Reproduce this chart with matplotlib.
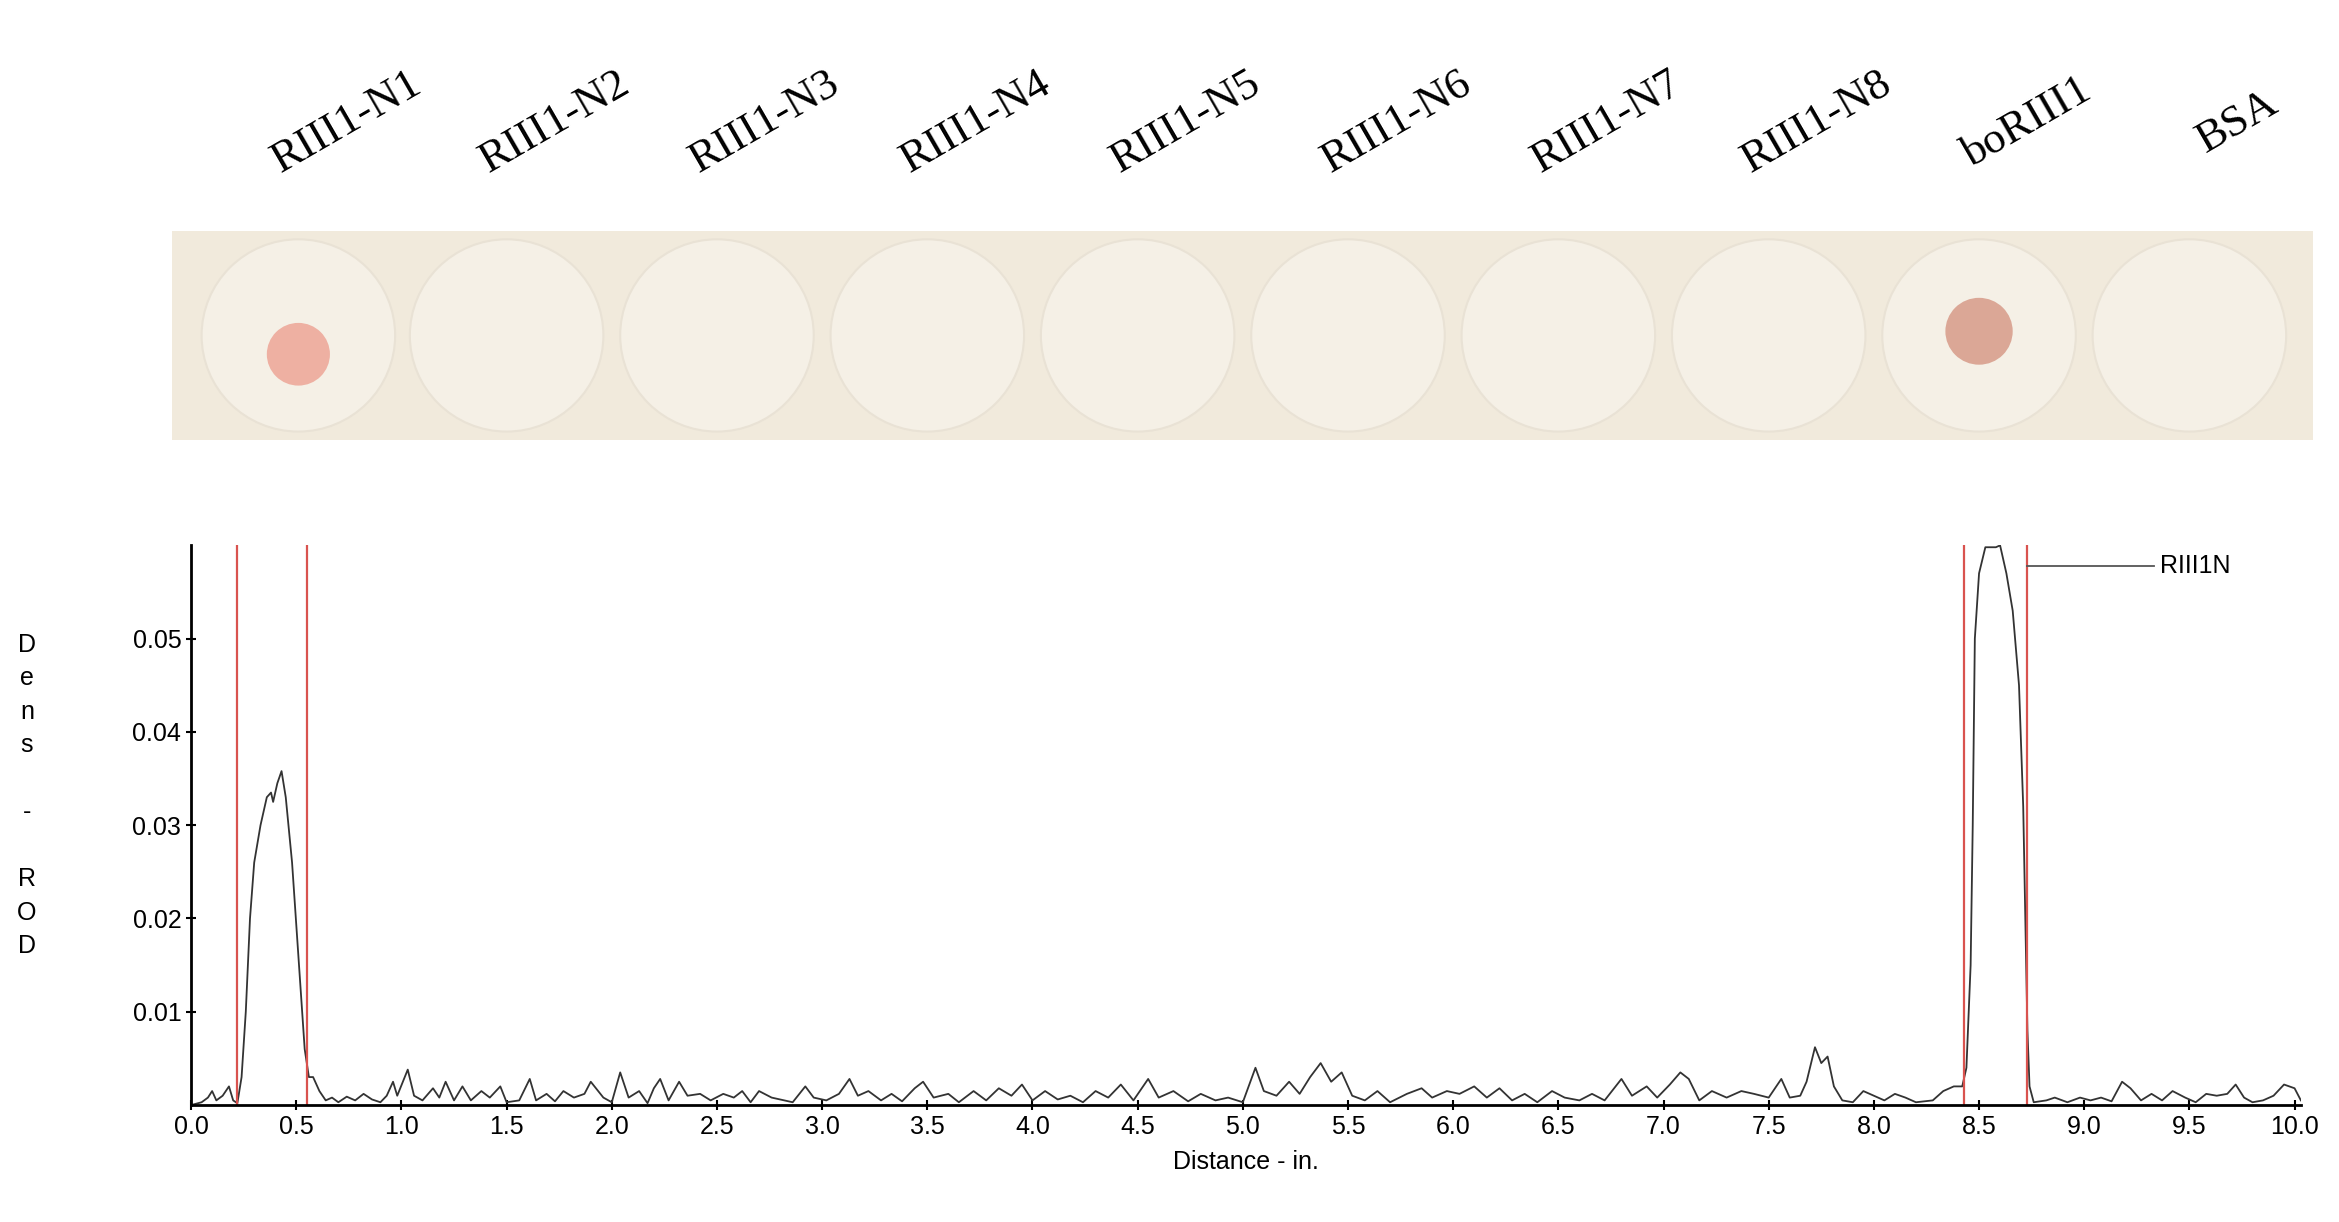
import matplotlib
matplotlib.use("Agg")
import matplotlib.pyplot as plt
from matplotlib.patches import Rectangle, Circle

# lane names and positions on the strip (inches)
lanes = ['RIII1-N1', 'RIII1-N2', 'RIII1-N3', 'RIII1-N4', 'RIII1-N5',
         'RIII1-N6', 'RIII1-N7', 'RIII1-N8', 'boRIII1', 'BSA']
lane_x = [0.51, 1.5, 2.5, 3.5, 4.5, 5.5, 6.5, 7.5, 8.5, 9.5]

# coloured spots: x, y, radius, colour
spot_x = [0.51, 8.5]
spot_y = [0.41, 0.52]
spot_r = [0.15, 0.16]
spot_c = ['#eeb0a2', '#dba796']

# densitometry trace
dist = [0.0, 0.05, 0.08, 0.1, 0.12, 0.15, 0.18, 0.2, 0.22, 0.24, 0.26, 0.28, 0.30, 0.33, 0.36, 0.38, 0.39, 0.41,
        0.43, 0.45, 0.48, 0.51, 0.54, 0.56, 0.58, 0.61, 0.64, 0.67, 0.70, 0.74, 0.78, 0.82, 0.86, 0.90, 0.93,
        0.96, 0.98, 1.03, 1.06, 1.10, 1.15, 1.18, 1.21, 1.25, 1.29, 1.33, 1.38, 1.42, 1.47, 1.5, 1.56, 1.61,
        1.64, 1.69, 1.73, 1.77, 1.82, 1.87, 1.9, 1.96, 2.0, 2.04, 2.08, 2.13, 2.17, 2.2, 2.23, 2.27, 2.32,
        2.36, 2.42, 2.47, 2.53, 2.58, 2.62, 2.66, 2.7, 2.76, 2.82, 2.86, 2.92, 2.96, 3.02, 3.08, 3.13, 3.17,
        3.22, 3.28, 3.33, 3.38, 3.44, 3.48, 3.53, 3.6, 3.65, 3.72, 3.78, 3.84, 3.9, 3.95, 4.0, 4.06, 4.12,
        4.18, 4.24, 4.3, 4.36, 4.42, 4.48, 4.55, 4.6, 4.67, 4.74, 4.8, 4.87, 4.93, 5.0, 5.06, 5.1, 5.16,
        5.22, 5.27, 5.32, 5.37, 5.42, 5.47, 5.52, 5.58, 5.64, 5.7, 5.78, 5.85, 5.9, 5.97, 6.03, 6.1, 6.16,
        6.22, 6.28, 6.34, 6.4, 6.47, 6.53, 6.6, 6.66, 6.72, 6.8, 6.85, 6.92, 6.97, 7.03, 7.08, 7.12, 7.17,
        7.23, 7.3, 7.37, 7.43, 7.5, 7.56, 7.6, 7.65, 7.68, 7.72, 7.75, 7.78, 7.81, 7.85, 7.9, 7.95, 8.0,
        8.05, 8.1, 8.15, 8.2, 8.28, 8.33, 8.38, 8.42, 8.44, 8.46, 8.47, 8.48, 8.5, 8.53, 8.58, 8.6, 8.63,
        8.66, 8.69, 8.71, 8.72, 8.73, 8.74, 8.76, 8.82, 8.86, 8.92, 8.98, 9.03, 9.08, 9.13, 9.18, 9.22,
        9.27, 9.32, 9.37, 9.42, 9.48, 9.53, 9.58, 9.63, 9.68, 9.72, 9.76, 9.8, 9.85, 9.9, 9.95, 10.0, 10.03]
dens = [0.0, 0.0003, 0.0008, 0.0015, 0.0005, 0.001, 0.002, 0.0005, 0.0002, 0.003, 0.01, 0.02, 0.026, 0.03,
        0.033, 0.0335, 0.0325, 0.0345, 0.0358, 0.033, 0.026, 0.016, 0.006, 0.003, 0.003, 0.0015, 0.0005,
        0.0008, 0.0003, 0.0009, 0.0005, 0.0012, 0.0006, 0.0003, 0.001, 0.0025, 0.001, 0.0038, 0.001, 0.0005,
        0.0018, 0.0008, 0.0025, 0.0005, 0.002, 0.0005, 0.0015, 0.0008, 0.002, 0.0003, 0.0005, 0.0028, 0.0005,
        0.0012, 0.0004, 0.0015, 0.0008, 0.0012, 0.0025, 0.0008, 0.0003, 0.0035, 0.0008, 0.0015, 0.0002,
        0.0018, 0.0028, 0.0005, 0.0025, 0.001, 0.0012, 0.0005, 0.0012, 0.0008, 0.0015, 0.0003, 0.0015,
        0.0008, 0.0005, 0.0003, 0.002, 0.0008, 0.0005, 0.0012, 0.0028, 0.001, 0.0015, 0.0005, 0.0012,
        0.0004, 0.0018, 0.0025, 0.0008, 0.0012, 0.0003, 0.0015, 0.0005, 0.0018, 0.001, 0.0022, 0.0005,
        0.0015, 0.0006, 0.001, 0.0003, 0.0015, 0.0008, 0.0022, 0.0005, 0.0028, 0.0008, 0.0015, 0.0004,
        0.0012, 0.0005, 0.0008, 0.0003, 0.004, 0.0015, 0.001, 0.0025, 0.0012, 0.003, 0.0045, 0.0025, 0.0035,
        0.001, 0.0005, 0.0015, 0.0003, 0.0012, 0.0018, 0.0008, 0.0015, 0.0012, 0.002, 0.0008, 0.0018,
        0.0005, 0.0012, 0.0003, 0.0015, 0.0008, 0.0005, 0.0012, 0.0005, 0.0028, 0.001, 0.002, 0.0008,
        0.0022, 0.0035, 0.0028, 0.0005, 0.0015, 0.0008, 0.0015, 0.0012, 0.0008, 0.0028, 0.0008, 0.001,
        0.0025, 0.0062, 0.0045, 0.0052, 0.002, 0.0005, 0.0003, 0.0015, 0.001, 0.0005, 0.0012, 0.0008,
        0.0003, 0.0005, 0.0015, 0.002, 0.002, 0.004, 0.015, 0.03, 0.05, 0.057, 0.0598, 0.0598, 0.06, 0.057,
        0.053, 0.045, 0.032, 0.02, 0.008, 0.002, 0.0003, 0.0005, 0.0008, 0.0003, 0.0008, 0.0005, 0.0008,
        0.0004, 0.0025, 0.0018, 0.0005, 0.0012, 0.0005, 0.0015, 0.0008, 0.0003, 0.0012, 0.001, 0.0012,
        0.0022, 0.0008, 0.0003, 0.0005, 0.001, 0.0022, 0.0018, 0.0005]

# band boundaries (red markers)
bounds = [0.22, 0.55, 8.43, 8.73]

fig = plt.figure(figsize=(23.39, 12.22), dpi=100)
sans = 'Liberation Sans'

# membrane strip
strip = fig.add_axes([0.0817, 0.640, 0.902, 0.171])
strip.set_xlim(0, 10.03)
strip.set_ylim(0, 1)
strip.axis('off')
strip.add_patch(Rectangle((-0.09, 0), 10.18, 1, facecolor='#f1eadc', edgecolor='none', clip_on=False))
for x in lane_x:
    strip.add_patch(Circle((x, 0.5), 0.46, facecolor='#f5f0e6', edgecolor='#e9e2d5', lw=1.5, clip_on=False))
for x, y, r, c in zip(spot_x, spot_y, spot_r, spot_c):
    strip.add_patch(Circle((x, y), r, facecolor=c, edgecolor='none', clip_on=False))
for x, name in zip(lane_x, lanes):
    strip.text(x + 0.23, 1.52, name, rotation=30, ha='center', va='center',
               fontsize=32, family='Liberation Serif', transform=strip.get_xaxis_transform())

# densitometry plot
ax = fig.add_axes([0.0817, 0.0957, 0.902, 0.458])
ax.plot(dist, dens, color='#333333', lw=1.3)
for b in bounds:
    ax.axvline(b, color='#d9534f', lw=1.6)
ax.plot([8.73, 9.33], [0.0578, 0.0578], color='#555555', lw=1.3)
ax.text(9.36, 0.0578, 'RIII1N', fontsize=18, family=sans, va='center')

ax.set_xlim(0, 10.03)
ax.set_ylim(0, 0.06)
ax.set_xticks([i * 0.5 for i in range(21)])
ax.set_xticklabels([f'{i * 0.5:.1f}' for i in range(21)])
ax.set_yticks([0.01, 0.02, 0.03, 0.04, 0.05])
ax.set_yticklabels(['0.01', '0.02', '0.03', '0.04', '0.05'])
ax.tick_params(labelsize=18, width=1.5, length=7, direction='inout')
for t in ax.get_xticklabels() + ax.get_yticklabels():
    t.set_family(sans)
for s in ['top', 'right']:
    ax.spines[s].set_visible(False)
for s in ['left', 'bottom']:
    ax.spines[s].set_linewidth(2)
ax.set_xlabel('Distance - in.', fontsize=18, family=sans, labelpad=8)

fig.text(0.0115, 0.349, 'D\ne\nn\ns\n \n-\n \nR\nO\nD', fontsize=18, family=sans,
         ha='center', va='center', linespacing=1.5)

fig.savefig('out.png', dpi=100)
